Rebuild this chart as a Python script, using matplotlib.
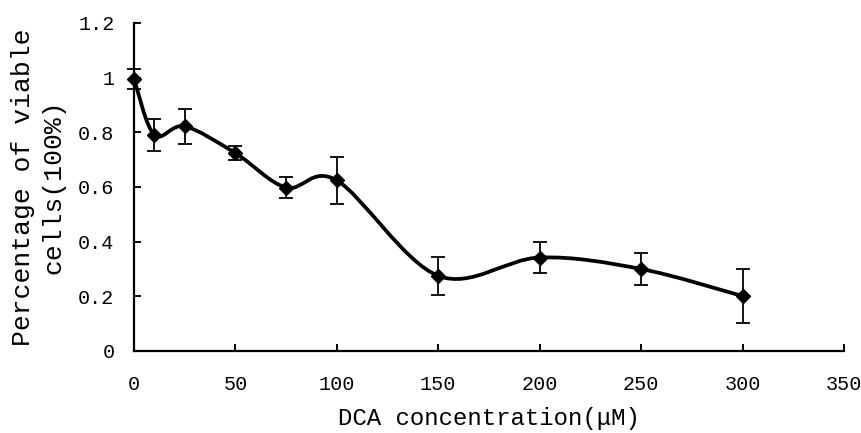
import matplotlib
matplotlib.use("Agg")
import matplotlib.pyplot as plt
from matplotlib.path import Path
from matplotlib.patches import PathPatch

# DCA concentration (uM) vs. fraction of viable cells
conc = [0, 10, 25, 50, 75, 100, 150, 200, 250, 300]
viable = [0.996, 0.791, 0.822, 0.724, 0.598, 0.624, 0.275, 0.342, 0.300, 0.201]
err = [0.037, 0.059, 0.065, 0.026, 0.040, 0.085, 0.070, 0.058, 0.059, 0.099]

x_ticks = [0, 50, 100, 150, 200, 250, 300, 350]
y_ticks = [0, 0.2, 0.4, 0.6, 0.8, 1.0, 1.2]

plt.rcParams["font.family"] = ["Liberation Mono", "DejaVu Sans Mono"]


def smooth_path(xs, ys):
    """Excel-style smoothed line: cubic Bezier segments (Catmull-Rom)."""
    pts = list(zip(xs, ys))
    verts = [pts[0]]
    codes = [Path.MOVETO]
    n = len(pts)
    for i in range(n - 1):
        p0 = pts[i - 1] if i > 0 else pts[i]
        p1 = pts[i]
        p2 = pts[i + 1]
        p3 = pts[i + 2] if i + 2 < n else pts[i + 1]
        c1 = (p1[0] + (p2[0] - p0[0]) / 6, p1[1] + (p2[1] - p0[1]) / 6)
        c2 = (p2[0] - (p3[0] - p1[0]) / 6, p2[1] - (p3[1] - p1[1]) / 6)
        verts += [c1, c2, p2]
        codes += [Path.CURVE4] * 3
    return Path(verts, codes)


fig = plt.figure(figsize=(8.61, 4.33), dpi=100)
ax = fig.add_axes([0.1556, 0.1894, 0.8246, 0.7575])

ax.add_patch(PathPatch(smooth_path(conc, viable), fill=False,
                       edgecolor="black", linewidth=2.7, zorder=2,
                       clip_on=False, capstyle="round", joinstyle="round"))
ax.errorbar(conc, viable, yerr=err, fmt="none", ecolor="black",
            elinewidth=1.3, capsize=4.8, capthick=1.3, zorder=3,
            clip_on=False)
ax.plot(conc, viable, "D", color="black", markersize=7, zorder=4,
        clip_on=False)

ax.set_xlim(0, 350)
ax.set_ylim(0, 1.2)
ax.set_xticks(x_ticks)
ax.set_yticks(y_ticks)
ax.set_yticklabels([f"{v:g}" for v in y_ticks])

for side in ("top", "right"):
    ax.spines[side].set_visible(False)
for side in ("left", "bottom"):
    ax.spines[side].set_linewidth(1.6)

ax.tick_params(axis="both", direction="in", length=5, width=1.4,
               labelsize=14.5)
ax.tick_params(axis="x", pad=17)
ax.tick_params(axis="y", pad=14)

ax.set_xlabel("DCA concentration(μM)", fontsize=17.3)
ax.xaxis.set_label_coords(0.5, -0.172)
ax.set_ylabel("Percentage of viable\ncells(100%)", fontsize=19,
              linespacing=1.3)
ax.yaxis.set_label_coords(-0.097, 0.5)

fig.savefig("out.png", dpi=100)
